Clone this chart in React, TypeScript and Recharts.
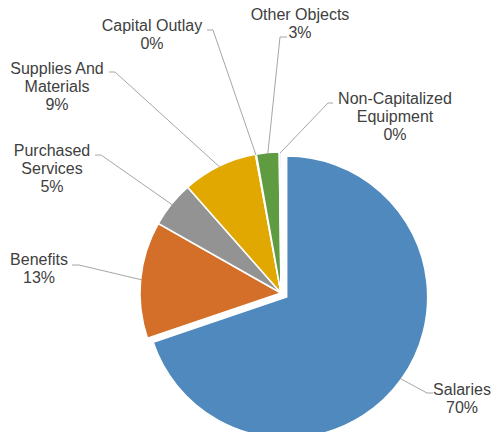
import { PieChart, Pie, Cell } from "recharts";

const categories = [
  "Salaries",
  "Benefits",
  "Purchased Services",
  "Supplies And Materials",
  "Capital Outlay",
  "Other Objects",
  "Non-Capitalized Equipment",
];
const amounts = [69.8, 13.4, 5.3, 8.6, 0.1, 2.6, 0.2];
const labelLines = [
  ["Salaries"],
  ["Benefits"],
  ["Purchased", "Services"],
  ["Supplies And", "Materials"],
  ["Capital Outlay"],
  ["Other Objects"],
  ["Non-Capitalized", "Equipment"],
];

const colors = ["#4f89bd", "#d46f2a", "#939393", "#e0a800", "#3e6db5", "#5f9b41", "#9dbfe3"];

// label placement: text centre x, first line centre y, leader elbow [x1, x2, y]
const labelLayout = [
  { x: 462, y: 389, elbow: [433, 427, 393] },
  { x: 39, y: 259, elbow: [72, 79, 265] },
  { x: 52, y: 150, elbow: [95, 101, 155] },
  { x: 57, y: 68, elbow: [109, 115, 72] },
  { x: 152, y: 25, elbow: [207, 213, 30] },
  { x: 300, y: 14, elbow: [287, 280, 37] },
  { x: 395, y: 98, elbow: [333, 328, 103] },
];

const data = categories.map((name, i) => ({ name, value: amounts[i] }));

const CX = 281;
const CY = 293;
const R = 141;
const EXPLODE = 7;
const RAD = Math.PI / 180;

const total = amounts.reduce((a, b) => a + b, 0);
const salariesMid = 90 - (amounts[0] / total) * 180;
const ex = CX + EXPLODE * Math.cos(-salariesMid * RAD);
const ey = CY + EXPLODE * Math.sin(-salariesMid * RAD);

const makeLabel = (exploded: boolean) => (props: any) => {
  const { cx, cy, midAngle, outerRadius, index, percent } = props;
  if ((index === 0) !== exploded) return null;
  const lay = labelLayout[index];
  const r = outerRadius - 1;
  const sx = cx + r * Math.cos(-midAngle * RAD);
  const sy = cy + r * Math.sin(-midAngle * RAD);
  const [x1, x2, ly] = lay.elbow;
  const lines = [...labelLines[index], `${Math.round(percent * 100)}%`];
  return (
    <g key={`lbl-${index}`}>
      <polyline
        points={`${x1},${ly} ${x2},${ly} ${sx},${sy}`}
        fill="none"
        stroke="#a6a6a6"
        strokeWidth={1}
      />
      {lines.map((t, j) => (
        <text
          key={j}
          x={lay.x}
          y={lay.y + j * 18}
          textAnchor="middle"
          dominantBaseline="central"
          fill="#404040"
          fontSize={16}
          fontFamily="'Liberation Sans', Arial, sans-serif"
        >
          {t}
        </text>
      ))}
    </g>
  );
};

export default function App() {
  return (
    <div style={{ position: "absolute", left: 0, top: 0, width: 496, height: 432, background: "#fff" }}>
      <PieChart width={496} height={432} margin={{ top: 0, right: 0, bottom: 0, left: 0 }}>
        <Pie
          data={data}
          dataKey="value"
          nameKey="name"
          cx={CX}
          cy={CY}
          outerRadius={R}
          startAngle={90}
          endAngle={-270}
          isAnimationActive={false}
          labelLine={false}
          label={makeLabel(false)}
        >
          {data.map((d, i) => (
            <Cell
              key={d.name}
              fill={i === 0 ? "transparent" : colors[i]}
              stroke={i === 0 ? "none" : "#ffffff"}
              strokeWidth={1.5}
            />
          ))}
        </Pie>
        <Pie
          data={data}
          dataKey="value"
          nameKey="name"
          cx={ex}
          cy={ey}
          outerRadius={R}
          startAngle={90}
          endAngle={-270}
          isAnimationActive={false}
          labelLine={false}
          label={makeLabel(true)}
        >
          {data.map((d, i) => (
            <Cell
              key={d.name}
              fill={i === 0 ? colors[0] : "transparent"}
              stroke={i === 0 ? "#ffffff" : "none"}
              strokeWidth={1.5}
            />
          ))}
        </Pie>
      </PieChart>
    </div>
  );
}
